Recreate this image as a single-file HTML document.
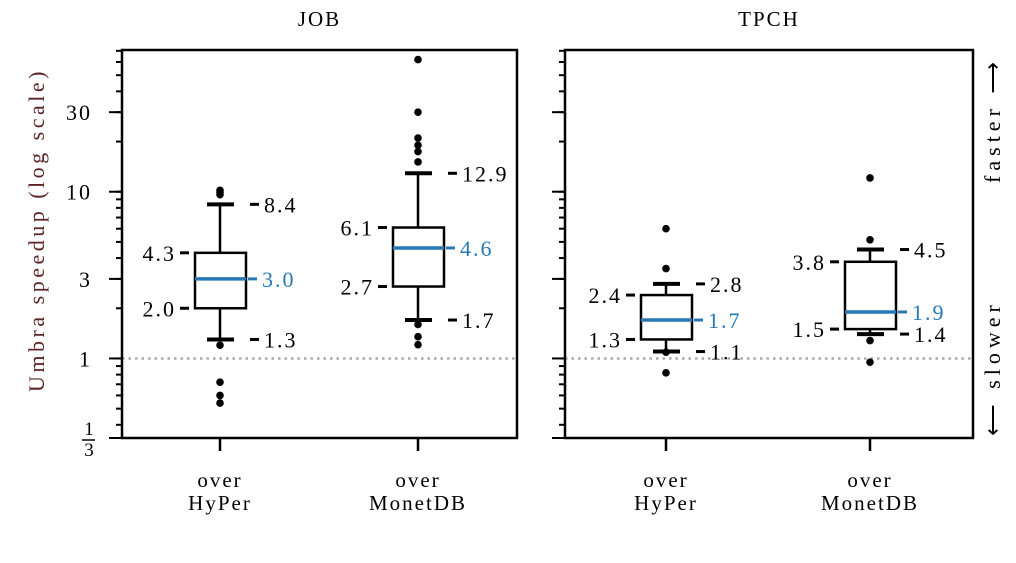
<!DOCTYPE html>
<html><head><meta charset="utf-8"><style>
body{margin:0;background:#fff}
svg text{font-family:"Liberation Serif",serif;letter-spacing:2px}
</style></head><body>
<svg id="chart" width="1016" height="558" viewBox="0 0 1016 558" xmlns="http://www.w3.org/2000/svg"></svg>
<script>
const panels = ["JOB", "TPCH"];
const categories = ["HyPer", "MonetDB"];
// [whiskerLow, q1, median, q3, whiskerHigh] per panel/category
const jobStats = [[1.3, 2.0, 3.0, 4.3, 8.4], [1.7, 2.7, 4.6, 6.1, 12.9]];
const tpchStats = [[1.1, 1.3, 1.7, 2.4, 2.8], [1.4, 1.5, 1.9, 3.8, 4.5]];
const jobOutliers = [[9.6, 9.9, 10.2, 1.2, 0.72, 0.6, 0.54], [62, 30, 21, 19, 17.4, 15.1, 1.6, 1.35, 1.21]];
const tpchOutliers = [[6.0, 3.46, 1.09, 0.82], [12.1, 5.15, 1.28, 0.95]];
const yTicks = [1/3, 1, 3, 10, 30];
const yTickLabels = ["1/3", "1", "3", "10", "30"];

const NS = "http://www.w3.org/2000/svg";
const svg = document.getElementById("chart");
const yMin = 1/3, yMax = 70.8, yTop = 50, yBot = 438;
function y(v){ return yBot - (Math.log10(v) - Math.log10(yMin)) / (Math.log10(yMax) - Math.log10(yMin)) * (yBot - yTop); }
const frames = [{x0:122, x1:517, cx:[220, 418]}, {x0:565, x1:973, cx:[666, 870]}];
function el(tag, attrs, parent){ const e = document.createElementNS(NS, tag); for (const k in attrs) e.setAttribute(k, attrs[k]); (parent||svg).appendChild(e); return e; }
function txt(s, attrs, parent){ const t = el("text", attrs, parent); t.textContent = s; return t; }
const blue = "#2878b5";
const allStats = [jobStats, tpchStats], allOut = [jobOutliers, tpchOutliers];

panels.forEach((p, pi) => {
  const f = frames[pi];
  const g = el("g", {});
  
  
  const ref = el("line", {x1:f.x0, x2:f.x1, y1:y(1), y2:y(1), stroke:"#aaa", "stroke-width":2.5, "stroke-dasharray":"2.5 4"}, g);
  
  
  for (let d = -1; d <= 1; d++) for (let m = 1; m <= 9; m++) {
    const v = m * Math.pow(10, d);
    if (v < yMin || v > yMax) continue;
    el("line", {x1:f.x0 - 6, x2:f.x0, y1:y(v), y2:y(v), stroke:"#000", "stroke-width":2}, g);
  }
  yTicks.forEach(v => el("line", {x1:f.x0 - 13, x2:f.x0, y1:y(v), y2:y(v), stroke:"#000", "stroke-width":2}, g));
  const frame = el("rect", {x:f.x0, y:yTop, width:f.x1 - f.x0, height:yBot - yTop, fill:"none", stroke:"#000", "stroke-width":2.5}, g);
  
  
  const title = txt(p, {x:(f.x0 + f.x1)/2, y:26, "text-anchor":"middle", "font-size":21}, g);
  
  

  categories.forEach((c, ci) => {
    const s = allStats[pi][ci], cx = f.cx[ci], hw = 25;
    const bg = el("g", {}, g);
    
    
    el("line", {x1:cx, x2:cx, y1:y(s[0]), y2:y(s[1]), stroke:"#000", "stroke-width":2.5}, bg);
    el("line", {x1:cx, x2:cx, y1:y(s[3]), y2:y(s[4]), stroke:"#000", "stroke-width":2.5}, bg);
    el("line", {x1:cx - 13, x2:cx + 14, y1:y(s[0]), y2:y(s[0]), stroke:"#000", "stroke-width":4}, bg);
    el("line", {x1:cx - 13, x2:cx + 14, y1:y(s[4]), y2:y(s[4]), stroke:"#000", "stroke-width":4}, bg);
    el("rect", {x:cx - hw, y:y(s[3]), width:2*hw + 1, height:y(s[1]) - y(s[3]), fill:"#fff", stroke:"#000", "stroke-width":2.5}, bg);
    el("line", {x1:cx - hw, x2:cx + hw + 1, y1:y(s[2]), y2:y(s[2]), stroke:blue, "stroke-width":3.5}, bg);
    allOut[pi][ci].forEach(v => {
      const d = el("circle", {cx:cx, cy:y(v), r:3.8, fill:"#000"}, bg);
      
      
    });
    const fmt = v => v.toFixed(1);
    [[1, "left"], [3, "left"], [2, "median"], [0, "right"], [4, "right"]].forEach(([k, side]) => {
      const yy = y(s[k]);
      const col = side === "median" ? blue : "#000";
      if (side === "left") {
        el("line", {x1:cx - 40, x2:cx - 31, y1:yy, y2:yy, stroke:"#000", "stroke-width":3}, bg);
        const t = txt(fmt(s[k]), {x:cx - 44, y:yy + 8, "text-anchor":"end", "font-size":22, fill:col}, bg);
        
        
      } else {
        const x1 = side === "median" ? cx + hw + 3 : cx + 30;
        el("line", {x1:x1, x2:x1 + 9, y1:yy, y2:yy, stroke:col, "stroke-width":3}, bg);
        const t = txt(fmt(s[k]), {x:x1 + 14, y:yy + 8, "font-size":22, fill:col}, bg);
        
        
      }
    });
    el("line", {x1:cx, x2:cx, y1:yBot, y2:yBot + 13, stroke:"#000", "stroke-width":2.5}, g);
    const l1 = txt("over", {x:cx, y:487, "text-anchor":"middle", "font-size":21}, g);
    
    
    const l2 = txt(c, {x:cx, y:510, "text-anchor":"middle", "font-size":21}, g);
    
    
  });
});

yTicks.forEach((v, i) => {
  if (yTickLabels[i] === "1/3") {
    const t1 = txt("1", {x:89, y:y(v) - 3, "text-anchor":"middle", "font-size":19, style:"letter-spacing:0"}, svg);
    
    
    el("line", {x1:82, x2:95, y1:y(v) + 2, y2:y(v) + 2, stroke:"#000", "stroke-width":1.5});
    const t2 = txt("3", {x:89, y:y(v) + 18, "text-anchor":"middle", "font-size":19, style:"letter-spacing:0"}, svg);
    
    
  } else {
    const t = txt(yTickLabels[i], {x:92, y:y(v) + 8, "text-anchor":"end", "font-size":22}, svg);
    
    
  }
});
const yl = txt("Umbra speedup (log scale)", {x:0, y:0, "text-anchor":"middle", "font-size":22, fill:"#5c2424", style:"letter-spacing:3.5px", transform:"translate(44,230) rotate(-90)"}, svg);


const fa = txt("faster \u27F6", {x:0, y:0, "text-anchor":"middle", "font-size":22, style:"letter-spacing:5px", transform:"translate(1000,120) rotate(-90)"}, svg);


const sl = txt("\u27F5 slower", {x:0, y:0, "text-anchor":"middle", "font-size":22, style:"letter-spacing:5px", transform:"translate(1000,368) rotate(-90)"}, svg);


</script>
</body></html>
